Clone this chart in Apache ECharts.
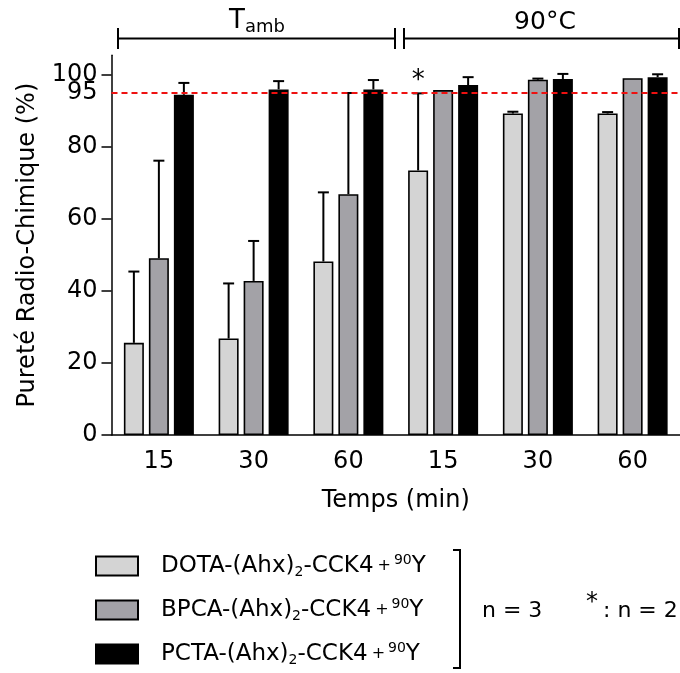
<!DOCTYPE html>
<html>
<head>
<meta charset="utf-8">
<script src="https://cdn.jsdelivr.net/npm/echarts@6/dist/echarts.min.js"></script>
<style>html,body{margin:0;padding:0;background:#fff}#c{width:680px;height:673px}</style>
</head>
<body>
<div id="c"></div>
<script>
// ---- data ----
const categories = ['15', '30', '60', '15', '30', '60'];
const chelators = ['DOTA', 'BPCA', 'PCTA'];
const dota = [25.6, 26.8, 48.2, 73.5, 89.3, 89.3];
const dotaErr = [19.8, 15.3, 19.2, 21.4, 0.5, 0.4];
const bpca = [49.1, 42.8, 66.9, 95.8, 98.7, 99.1];
const bpcaErr = [27.1, 11.1, 28.1, 0, 0.3, 0];
const pcta = [94.5, 96.0, 96.0, 97.2, 98.9, 99.4];
const pctaErr = [3.3, 2.3, 2.6, 2.2, 1.4, 0.8];
const dotaN2 = [0, 0, 0, 1, 0, 0];   // '*' : n = 2
const yTickValues = [0, 20, 40, 60, 80, 100];
const yLabelValues = [0, 20, 40, 60, 80, 100];
const threshold = 95;                // dashed line, labelled on the axis

const FONT = 'DejaVu Sans';
const colors = ['#d4d4d4', '#a3a2a7', '#000000'];
const BAR_W = 20, BAR_GAP = 0.25;

const values = [dota, bpca, pcta];
const errs = [dotaErr, bpcaErr, pctaErr];
const flags = [dotaN2, [0,0,0,0,0,0], [0,0,0,0,0,0]];

function errRender(sIdx) {
  return function (params, api) {
    const e = api.value(2);
    if (!(e > 0)) return { type: 'group', children: [] };
    const x = api.value(0), v = api.value(1);
    const base = api.coord([x, v]);
    const top = api.coord([x, v + e]);
    const cx = base[0] + (sIdx - 1) * BAR_W * (1 + BAR_GAP);
    const st = { stroke: '#000', lineWidth: 2 };
    const children = [
      { type: 'line', shape: { x1: cx, y1: base[1], x2: cx, y2: top[1] }, style: st },
      { type: 'line', shape: { x1: cx - 5.5, y1: top[1], x2: cx + 5.5, y2: top[1] }, style: st }
    ];
    if (api.value(3)) {
      children.push({ type: 'text', style: { text: '*', x: cx, y: top[1] - 12, align: 'center', verticalAlign: 'middle', font: '26px ' + FONT, fill: '#000' } });
    }
    return { type: 'group', children };
  };
}

const series = [];
chelators.forEach((n, i) => {
  series.push({
    name: n, type: 'bar', data: values[i], barWidth: BAR_W, barGap: (BAR_GAP * 100) + '%',
    itemStyle: { color: colors[i], borderColor: '#000', borderWidth: 1.6 },
    z: 2
  });
});
chelators.forEach((n, i) => {
  series.push({
    name: n + ' err', type: 'custom', renderItem: errRender(i), z: 3,
    encode: { x: 0, y: 1 },
    data: categories.map((c, k) => [k, values[i][k], errs[i][k], flags[i][k]])
  });
});
series.push({
  name: 'seuil', type: 'line', data: [], z: 5,
  markLine: {
    silent: true, symbol: 'none',
    label: { show: true, position: 'start', distance: 14, formatter: String(threshold),
             fontSize: 24, color: '#000', fontFamily: FONT },
    lineStyle: { color: '#ee1111', type: [6, 4], width: 2 },
    data: [{ yAxis: threshold }]
  }
});

const chart = echarts.init(document.getElementById('c'), null, { renderer: 'canvas' });
const bracketY = 38.5;
const lineSt = { stroke: '#000', lineWidth: 2 };
chart.setOption({
  animation: false,
  backgroundColor: '#fff',
  textStyle: { fontFamily: FONT },
  grid: { left: 111.5, top: 55.2, width: 574, height: 379.8, containLabel: false },
  xAxis: {
    type: 'category', data: categories,
    axisLine: { lineStyle: { color: '#000', width: 1.5 } },
    axisTick: { alignWithLabel: true, length: 11, lineStyle: { color: '#000', width: 1.5 } },
    axisLabel: { fontSize: 24, color: '#000', margin: 15, fontFamily: FONT },
    name: 'Temps (min)', nameLocation: 'middle', nameGap: 54,
    nameTextStyle: { fontSize: 24, color: '#000', fontFamily: FONT }
  },
  yAxis: {
    type: 'value', min: 0, max: 105.5,
    splitLine: { show: false },
    axisLine: { show: true, lineStyle: { color: '#000', width: 1.5 } },
    axisTick: { show: true, length: 10, customValues: yTickValues, lineStyle: { color: '#000', width: 1.5 } },
    axisLabel: { customValues: yLabelValues, fontSize: 24, color: '#000', margin: 14, fontFamily: FONT },
    name: 'Pureté Radio-Chimique (%)', nameLocation: 'middle', nameGap: 72,
    nameTextStyle: { fontSize: 24, color: '#000', fontFamily: FONT }
  },
  legend: {
    orient: 'vertical', left: 95, top: 553, padding: 0, height: 120,
    itemWidth: 42, itemHeight: 19, itemGap: 18,
    icon: 'rect', selectedMode: false, data: chelators,
    formatter: n => '{sp|}' + n + '-(Ahx){sub|2}-CCK4{pl|+}{sup|90}Y',
    textStyle: {
      fontFamily: FONT, fontSize: 23, color: '#000', lineHeight: 26,
      rich: {
        sp: { width: 18 },
        sub: { fontSize: 14, lineHeight: 14, verticalAlign: 'bottom', fontFamily: FONT, color: '#000' },
        pl: { fontSize: 16, padding: [0, 3, 0, 4], fontFamily: FONT, color: '#000' },
        sup: { fontSize: 14, lineHeight: 10, verticalAlign: 'top', fontFamily: FONT, color: '#000' }
      }
    }
  },
  graphic: [
    { type: 'line', shape: { x1: 118, y1: bracketY, x2: 395, y2: bracketY }, style: lineSt },
    { type: 'line', shape: { x1: 118, y1: 28, x2: 118, y2: 49 }, style: lineSt },
    { type: 'line', shape: { x1: 395, y1: 28, x2: 395, y2: 49 }, style: lineSt },
    { type: 'line', shape: { x1: 404, y1: bracketY, x2: 679, y2: bracketY }, style: lineSt },
    { type: 'line', shape: { x1: 404, y1: 28, x2: 404, y2: 49 }, style: lineSt },
    { type: 'line', shape: { x1: 679, y1: 28, x2: 679, y2: 49 }, style: lineSt },
    { type: 'text', style: {
        text: '{t|T}{s|amb}', x: 257, y: 21, align: 'center', verticalAlign: 'middle',
        rich: { t: { fontSize: 26, fontFamily: FONT, fill: '#000', lineHeight: 30 },
                s: { fontSize: 18, fontFamily: FONT, fill: '#000', lineHeight: 18, verticalAlign: 'bottom' } } } },
    { type: 'text', style: { text: '90°C', x: 545, y: 22, align: 'center', verticalAlign: 'middle', font: '25px ' + FONT, fill: '#000' } },
    { type: 'polyline', shape: { points: [[453, 550], [460, 550], [460, 668], [453, 668]] }, style: { stroke: '#000', lineWidth: 2, fill: null } },
    { type: 'text', style: { text: 'n = 3', x: 482, y: 611, align: 'left', verticalAlign: 'middle', font: '22px ' + FONT, fill: '#000' } },
    { type: 'text', style: { text: '*', x: 592, y: 603, align: 'center', verticalAlign: 'middle', font: '24px ' + FONT, fill: '#000' } },
    { type: 'text', style: { text: ': n = 2', x: 603, y: 611, align: 'left', verticalAlign: 'middle', font: '22px ' + FONT, fill: '#000' } }
  ],
  series
});
</script>
</body>
</html>
